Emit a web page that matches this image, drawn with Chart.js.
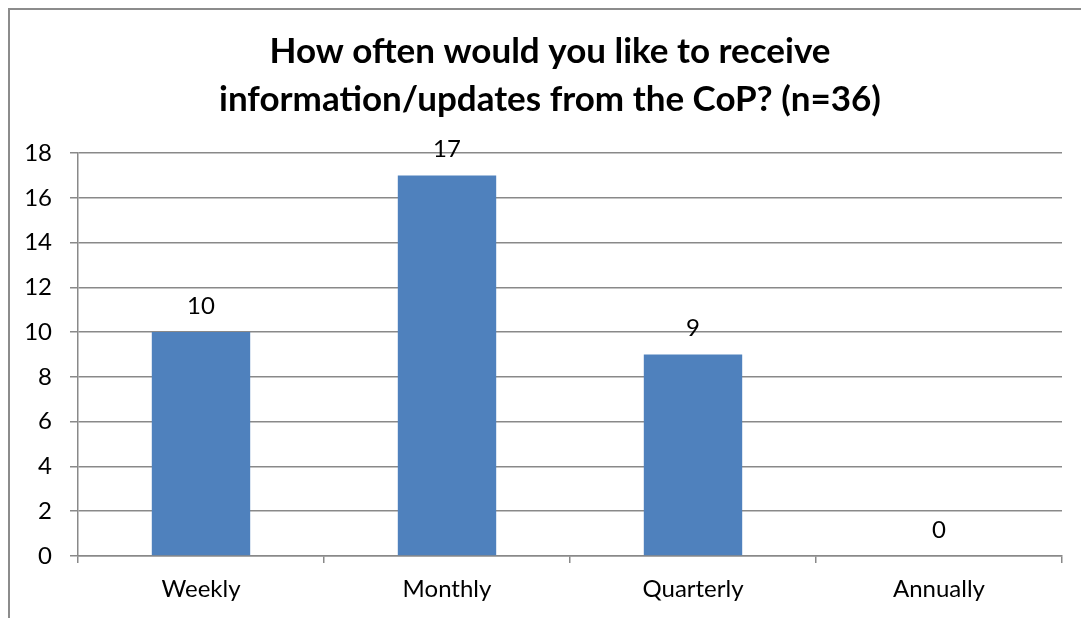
<!DOCTYPE html>
<html>
<head>
<meta charset="utf-8">
<script src="https://cdn.jsdelivr.net/npm/chart.js@4/dist/chart.umd.min.js"></script>
<style>
  html, body { margin: 0; padding: 0; background: #fff; }
  #wrap { position: relative; width: 1081px; height: 618px; }
</style>
</head>
<body>
<div id="wrap"><canvas id="chart" width="1081" height="618"></canvas></div>
<script>
const categories = ["Weekly", "Monthly", "Quarterly", "Annually"];
const responses = [10, 17, 9, 0];
const titleLines = ["How often would you like to receive", "information/updates from the CoP? (n=36)"];
const yMax = 18;
const yStep = 2;

const gridGray = "#898989";
const fontFamily = "Lato, 'Open Sans', sans-serif";

// outer frame (only top and left edges fall inside the picture)
const framePlugin = {
  id: "frame",
  beforeDraw(chart) {
    const ctx = chart.ctx;
    ctx.save();
    ctx.fillStyle = "#fff";
    ctx.fillRect(0, 0, chart.width, chart.height);
    ctx.strokeStyle = "#8c8c8c";
    ctx.lineWidth = 2;
    ctx.beginPath();
    ctx.moveTo(9, chart.height);
    ctx.lineTo(9, 9);
    ctx.lineTo(chart.width, 9);
    ctx.stroke();
    ctx.restore();
  },
};

// title is centred on the outer frame, not on the plot
const frameTitle = {
  id: "frameTitle",
  afterDraw(chart) {
    const ctx = chart.ctx;
    ctx.save();
    ctx.font = "bold 35px " + fontFamily;
    ctx.fillStyle = "#000";
    ctx.textAlign = "center";
    ctx.textBaseline = "middle";
    titleLines.forEach((line, i) => {
      ctx.fillText(line, 550, 52 + i * 48);
    });
    ctx.restore();
  },
};

// value labels above each bar
const valueLabels = {
  id: "valueLabels",
  afterDatasetsDraw(chart) {
    const ctx = chart.ctx;
    const meta = chart.getDatasetMeta(0);
    ctx.save();
    ctx.font = "24px " + fontFamily;
    ctx.fillStyle = "#000";
    ctx.textAlign = "center";
    ctx.textBaseline = "middle";
    meta.data.forEach((bar, i) => {
      ctx.fillText(String(responses[i]), bar.x, bar.y - 26);
    });
    ctx.restore();
  },
};

new Chart(document.getElementById("chart"), {
  type: "bar",
  data: {
    labels: categories,
    datasets: [
      {
        data: responses,
        backgroundColor: "#4F81BD",
        borderWidth: 0,
        categoryPercentage: 1,
        barPercentage: 0.4,
      },
    ],
  },
  options: {
    responsive: false,
    animation: false,
    layout: {
      padding: { left: 0, right: 19, top: 153, bottom: 0 },
    },
    plugins: {
      legend: { display: false },
      tooltip: { enabled: false },
      title: { display: false },
    },
    scales: {
      x: {
        afterFit(scale) {
          scale.height = 62;
        },
        grid: {
          offset: true,
          drawOnChartArea: false,
          drawTicks: true,
          tickLength: 7,
          color: gridGray,
          lineWidth: 1.5,
        },
        border: { color: gridGray, width: 1.5 },
        ticks: {
          color: "#000",
          padding: 12,
          font: { family: fontFamily, size: 24 },
        },
      },
      y: {
        min: 0,
        max: yMax,
        afterFit(scale) {
          scale.width = 78;
        },
        grid: {
          color: gridGray,
          lineWidth: 1.5,
          drawTicks: true,
          tickLength: 8,
        },
        border: { color: gridGray, width: 1.5 },
        ticks: {
          stepSize: yStep,
          color: "#000",
          padding: 18,
          font: { family: fontFamily, size: 24 },
        },
      },
    },
  },
  plugins: [framePlugin, frameTitle, valueLabels],
});
</script>
</body>
</html>
